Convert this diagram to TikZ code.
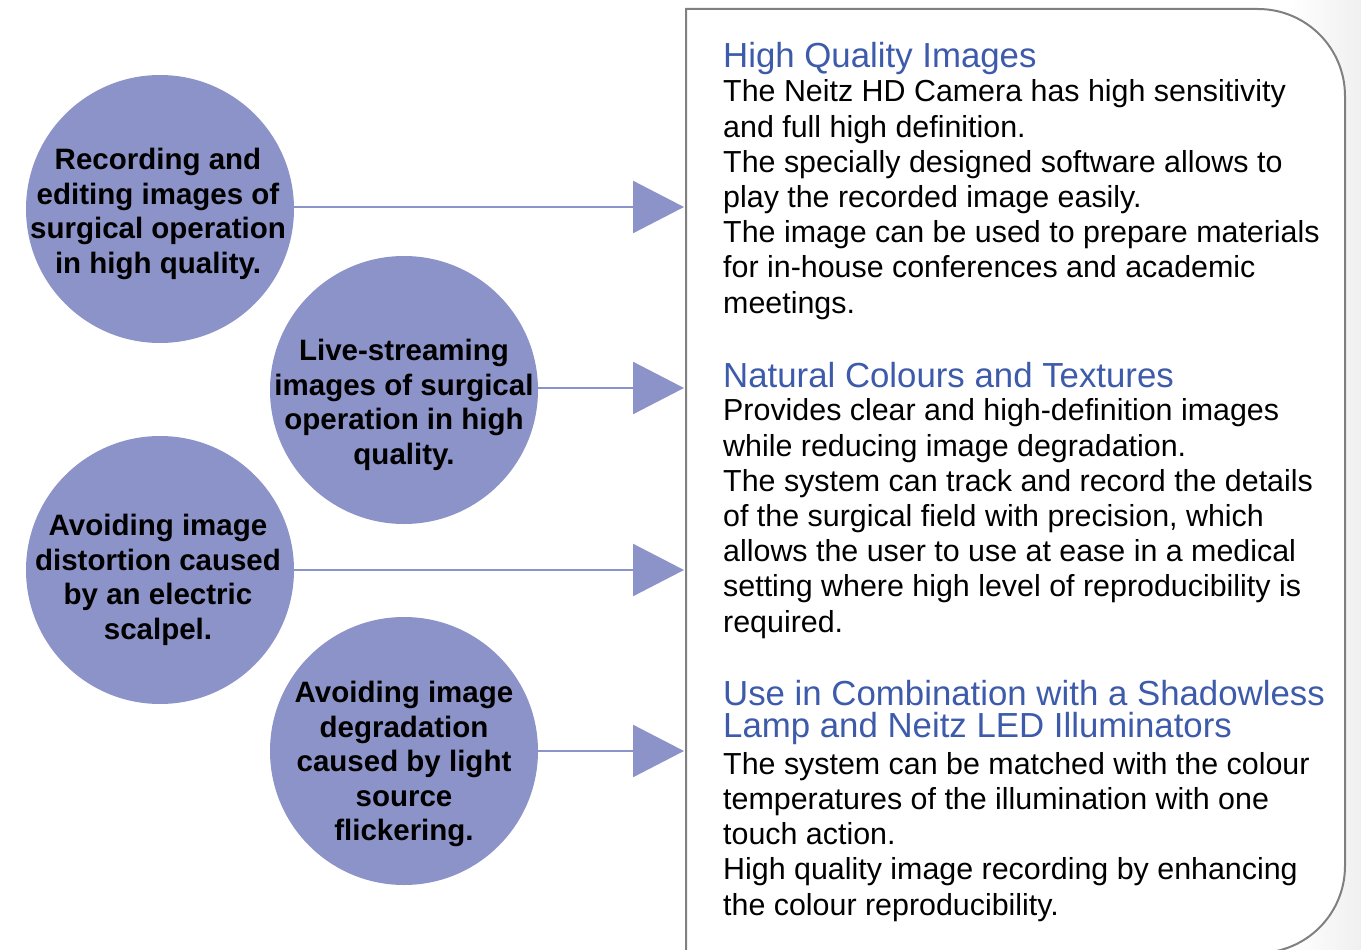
\documentclass[tikz,border=0pt]{standalone}
\usepackage{fontspec}
\setmainfont{Liberation Sans}
\usetikzlibrary{arrows.meta,calc}
\definecolor{circ}{HTML}{8C93C8}
\definecolor{ttl}{HTML}{3D5BAA}
\definecolor{framegray}{HTML}{808080}
\begin{document}
\begin{tikzpicture}[x=1pt,y=-1pt,
  bubble/.style={circle,fill=circ,inner sep=0pt,minimum size=268pt},
  btext/.style={font=\fontsize{29.5}{34.5}\selectfont\bfseries,align=center,inner sep=0pt},
  ttext/.style={font=\fontsize{34.8}{32}\selectfont,text=ttl,anchor=base west,inner sep=0pt,align=left},
  body/.style={font=\fontsize{30.4}{35.17}\selectfont,anchor=base west,inner sep=0pt,align=left},
  link/.style={draw=circ,line width=2.5pt,-{Triangle[length=51pt,width=52pt]}}]
\useasboundingbox (0,0) rectangle (1361,950);
\begin{scope}
\clip (0,0) rectangle (1361,950);
\fill[left color=white,right color=black!6] (1290,0) rectangle (1361,950);
\filldraw[draw=framegray,fill=white,line width=2pt]
  (686,960) -- (686,9) -- (1258,9)
  arc[start angle=-90,end angle=0,radius=87] -- (1345,866)
  arc[start angle=0,end angle=90,radius=87] -- (686,953) -- cycle;
\end{scope}
% anchor points on the box edge
\coordinate (a1) at (684,207);
\coordinate (a2) at (684,388);
\coordinate (a3) at (684,570);
\coordinate (a4) at (684,751);
% bubbles
\node[bubble] (c1) at (160,209) {};
\node[bubble] (c2) at (404,390) {};
\node[bubble] (c3) at (160,570) {};
\node[bubble] (c4) at (404,751) {};
\node[btext] (t1) at (158,214) {Recording and\\editing images of\\surgical operation\\in high quality.};
\node[btext] (t2) at (404,405) {Live-streaming\\images of surgical\\operation in high\\quality.};
\node[btext] (t3) at (158,580) {Avoiding image\\distortion caused\\by an electric\\scalpel.};
\node[btext] (t4) at (404,764) {Avoiding image\\degradation\\caused by light\\source\\flickering.};
% connectors
\draw[link] (a1 -| c1.east) -- (a1);
\draw[link] (a2 -| c2.east) -- (a2);
\draw[link] (a3 -| c3.east) -- (a3);
\draw[link] (a4 -| c4.east) -- (a4);
% right text (base anchor = baseline of last line)
\node[ttext] (h1) at (723,68) {High Quality Images};
\node[body] (b1) at (723,313) {The Neitz HD Camera has high sensitivity\\and full high definition.\\The specially designed software allows to\\play the recorded image easily.\\The image can be used to prepare materials\\for in-house conferences and academic\\meetings.};
\node[ttext] (h2) at (723,387) {Natural Colours and Textures};
\node[body] (b2) at (723,632) {Provides clear and high-definition images\\while reducing image degradation.\\The system can track and record the details\\of the surgical field with precision, which\\allows the user to use at ease in a medical\\setting where high level of reproducibility is\\required.};
\node[ttext] (h3) at (723,737) {Use in Combination with a Shadowless\\Lamp and Neitz LED Illuminators};
\node[body] (b3) at (723,915) {The system can be matched with the colour\\temperatures of the illumination with one\\touch action.\\High quality image recording by enhancing\\the colour reproducibility.};
\end{tikzpicture}
\end{document}
